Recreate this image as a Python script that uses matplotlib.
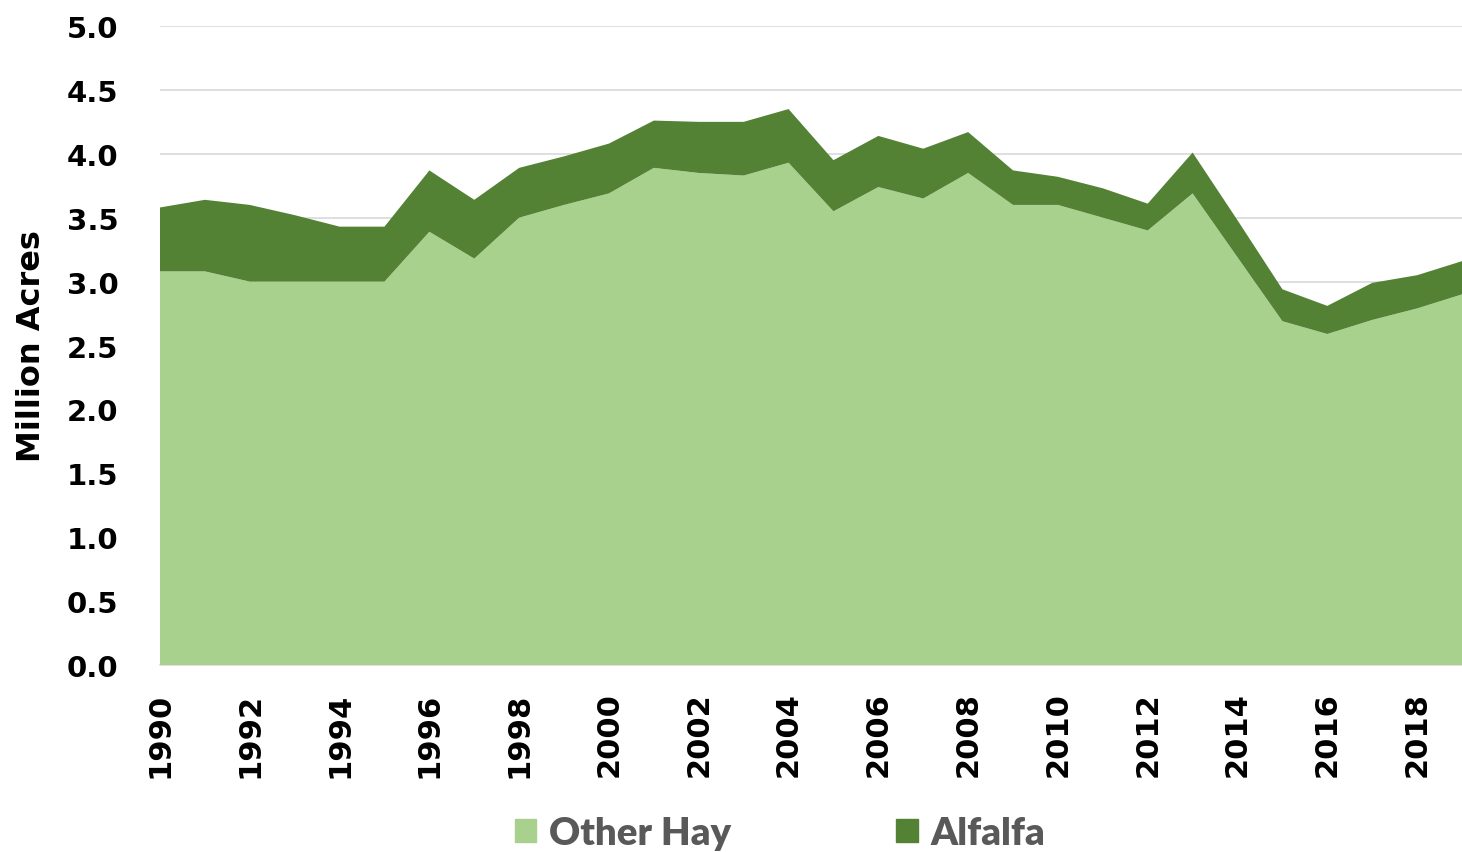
import numpy as np
import matplotlib
matplotlib.use('Agg')
import matplotlib.pyplot as plt
import matplotlib.patches as mpatches

# DATA (million acres)
years = list(range(1990, 2020))
other_hay = [3.08, 3.08, 3.00, 3.00, 3.00, 3.00, 3.39, 3.18, 3.50, 3.60,
             3.69, 3.89, 3.85, 3.83, 3.93, 3.55, 3.74, 3.65, 3.85, 3.60,
             3.60, 3.50, 3.40, 3.69, 3.19, 2.69, 2.59, 2.70, 2.79, 2.90]
total_hay = [3.58, 3.64, 3.60, 3.52, 3.43, 3.43, 3.87, 3.64, 3.89, 3.98,
             4.08, 4.26, 4.25, 4.25, 4.35, 3.95, 4.14, 4.04, 4.17, 3.87,
             3.82, 3.73, 3.61, 4.01, 3.48, 2.94, 2.81, 2.99, 3.05, 3.16]
alfalfa = [round(t - o, 2) for t, o in zip(total_hay, other_hay)]

colors = {'Other Hay': '#A9D18E', 'Alfalfa': '#548235'}

fig = plt.figure(figsize=(14.62, 8.53), dpi=100)
ax = fig.add_axes([160 / 1462, (853 - 666) / 853, 1302 / 1462, 639 / 853])

ax.stackplot(years, other_hay, alfalfa,
             colors=[colors['Other Hay'], colors['Alfalfa']], linewidth=0, zorder=3)

ax.set_xlim(1990, 2019)
ax.set_ylim(0, 5.0)
ax.set_yticks(np.arange(0, 5.01, 0.5))
ax.set_yticklabels(['%.1f' % v for v in np.arange(0, 5.01, 0.5)])
ax.set_xticks(range(1990, 2019, 2))
ax.set_xticklabels([str(y) for y in range(1990, 2019, 2)], rotation=90)

ax.grid(axis='y', color='#D9D9D9', linewidth=1.2, zorder=0)
ax.set_axisbelow(True)
for s in ['left', 'top', 'right']:
    ax.spines[s].set_visible(False)
ax.spines['bottom'].set_color('#D9D9D9')
ax.spines['bottom'].set_linewidth(1.2)

ax.tick_params(axis='y', length=0, pad=30, labelsize=21)
ax.tick_params(axis='x', length=0, pad=19, labelsize=22)
for lab in ax.get_xticklabels() + ax.get_yticklabels():
    lab.set_fontweight('bold')

ax.set_ylabel('Million Acres', fontsize=23, fontweight='bold')
ax.yaxis.set_label_coords(-0.087, 0.5)

# LEGEND
handles = [mpatches.Patch(color=col, label=lab) for lab, col in colors.items()]
fig.legend(handles=handles, loc='center', bbox_to_anchor=(0.5335, 0.022), ncol=2,
           frameon=False, handlelength=0.57, handleheight=0.57, handletextpad=0.34,
           columnspacing=4.3,
           prop={'family': 'Lato', 'weight': 'heavy', 'size': 27.5},
           labelcolor='#595959')

fig.savefig('out.png', dpi=100)
